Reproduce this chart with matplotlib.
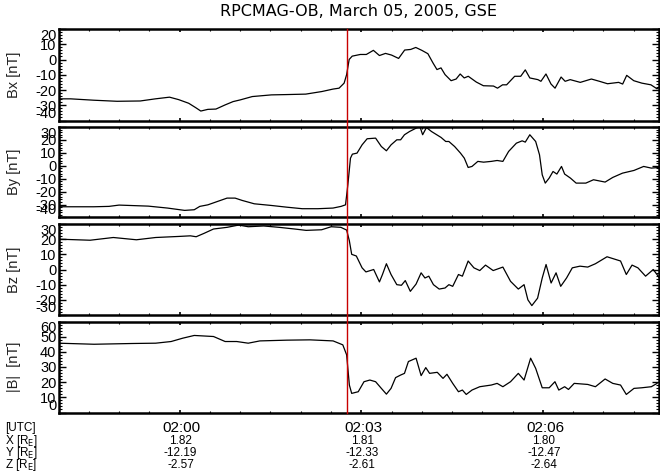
import matplotlib
matplotlib.use('Agg')
import matplotlib.pyplot as plt
from matplotlib.ticker import MultipleLocator
from matplotlib.transforms import blended_transform_factory
from matplotlib.lines import Line2D

# ---------------- data (time in seconds after 01:58:00 UTC) ----------------
bx_t = [0, 12, 35, 58, 81, 96, 110, 119, 129, 136, 141, 148, 156, 165, 173, 180, 192, 211, 226, 245,
        261, 272, 278, 283, 285.5, 288, 291, 299, 305, 312, 318, 324, 330, 337, 343, 349, 354, 360,
        366, 371, 375, 379, 383, 389, 394, 398, 402, 406, 414, 421, 431, 435, 440, 444, 452, 458,
        462.5, 467, 475, 478, 483, 488, 492, 498, 502, 507, 517, 528, 536, 544, 555, 559, 563, 570,
        578, 587, 593, 595]
bx = [-25.8, -25.8, -26.7, -27.4, -27.2, -25.8, -24.7, -26.3, -28.7, -31.6, -33.8, -32.7, -32.5, -29.8,
      -27.6, -26.5, -24.3, -23.2, -23.0, -22.7, -21.0, -19.4, -18.8, -15.5, -9.9, 0.0, 2.2, 3.3, 3.3,
      6.0, 2.6, 4.0, 2.9, 0.7, 6.2, 6.6, 7.9, 6.0, 3.8, -2.2, -6.6, -5.5, -9.9, -13.9, -12.8, -9.5,
      -12.1, -11.0, -14.8, -17.2, -17.4, -18.8, -16.6, -16.6, -11.0, -11.0, -6.8, -12.1, -13.2,
      -14.3, -9.5, -16.1, -18.8, -11.5, -14.3, -13.2, -15.0, -12.8, -14.3, -15.9, -15.0, -16.1,
      -10.4, -13.9, -15.5, -16.6, -19.2, -18.3]

by_t = [0, 35, 50, 60, 89, 108, 125, 134.5, 140, 148, 157.5, 167, 175, 182, 194, 211, 226, 241.5, 257,
        272, 280, 284.4, 286.7, 289.3, 291.2, 295.8, 300.8, 305.8, 314.2, 319.9, 324.9, 329.5, 335.2,
        339, 342.8, 347.8, 354.3, 358.1, 360.8, 364.6, 369.6, 379.1, 383.7, 386.8, 392.5, 398.3,
        402.1, 405.9, 409.7, 415.5, 421.2, 428.8, 434.6, 440.3, 446, 453.7, 459.4, 462.5, 467,
        472.8, 476.6, 479.3, 482.3, 486.2, 490, 493.8, 498.4, 501.5, 507.2, 512.9, 522.5, 530.1,
        541.6, 549.2, 558.8, 570.2, 579.8, 587.4, 595]
by = [-31.7, -31.7, -31.4, -30.4, -31.2, -32.7, -34.5, -34.0, -31.4, -30.2, -27.6, -25.0, -25.0, -26.8,
      -29.4, -30.7, -32.0, -33.2, -33.2, -32.7, -31.4, -30.2, -14.7, 5.9, 9.0, 9.8, 16.2, 20.9, 21.4,
      14.9, 11.6, 16.2, 20.1, 20.1, 24.0, 26.5, 29.1, 30.4, 24.0, 29.6, 26.5, 21.9, 18.8, 18.8, 14.9,
      9.8, 5.9, -1.3, -0.5, 3.4, 2.8, 3.4, 4.1, 3.4, 11.1, 17.5, 19.3, 18.3, 24.0, 18.8, 8.5, -7.0,
      -13.4, -9.5, -4.4, -6.4, -0.5, -6.4, -9.5, -13.4, -13.4, -10.8, -12.6, -9.0, -5.7, -3.6,
      -0.5, -1.8, -1.3]

bz_t = [0, 31.3, 54.3, 77.2, 96.3, 119.2, 130.7, 136.4, 144.1, 153.6, 167, 178.5, 188, 203.3, 218.6,
        233.9, 245.4, 260.7, 270.2, 279.8, 285.5, 288.2, 290.5, 295.1, 300.8, 304.6, 312.3, 318, 321,
        324.9, 329.5, 335.2, 339.8, 343.6, 348.6, 354.3, 359.3, 363.1, 366.9, 371.5, 377.2, 383,
        386.8, 390.6, 396.3, 400.2, 405.9, 411.6, 417.4, 423.1, 430.7, 440.3, 447.9, 455.6, 461.3,
        465.1, 469, 474.7, 479.3, 483.1, 488.1, 493, 497.6, 503.4, 509.1, 516.7, 524.4, 532, 543.5,
        556.9, 562.6, 568.3, 574.1, 581.7, 589.3, 595]
bz = [20.0, 19.3, 21.1, 19.6, 21.1, 21.8, 22.2, 21.6, 23.8, 26.7, 27.8, 29.3, 28.2, 28.7, 27.8, 26.7,
      25.8, 26.2, 28.2, 27.8, 26.0, 18.9, 10.0, 8.9, 1.1, -1.6, 0.0, -8.2, -3.3, 3.8, -3.3, -10.0,
      -10.4, -7.3, -14.4, -9.6, -2.2, -5.6, -4.4, -10.0, -12.9, -12.2, -10.0, -11.1, -3.3, -4.4,
      5.6, 1.1, -0.7, 2.9, -0.7, 1.6, -7.8, -12.9, -10.0, -20.0, -23.8, -18.9, -5.6, 3.3, -8.9,
      -2.2, -11.1, -5.6, 1.1, 2.2, 1.6, 3.8, 8.4, 5.6, -3.3, 2.9, 1.1, -4.4, 0.0, -5.1]

bt_t = [0, 35.2, 73.4, 96.3, 111.6, 123.1, 134.5, 153.6, 165.1, 176.6, 188, 199.5, 226.3, 249.2,
        272.1, 281.7, 285.5, 288.2, 290.5, 297, 302.7, 308.5, 314.2, 319.9, 324.9, 329.5, 334, 339,
        342.8, 346.7, 354.3, 359.3, 363.9, 367.7, 375.3, 381, 384.9, 390.6, 396.3, 400.2, 404,
        409.7, 417.4, 428.8, 434.6, 440.3, 447.9, 455.6, 461.3, 467.8, 472.8, 479.3, 486.2, 491.9,
        495.7, 501.5, 505.3, 511, 524.4, 532, 541.6, 549.2, 556.9, 562.6, 570.2, 577.9, 587.4, 593.1]
bt = [45.7, 45.0, 45.5, 45.7, 46.8, 49.0, 50.8, 50.1, 46.8, 46.8, 45.7, 47.2, 47.7, 47.9, 47.2, 44.6,
      38.0, 18.1, 12.6, 13.7, 20.3, 21.4, 20.3, 15.9, 12.1, 15.9, 23.0, 24.7, 25.8, 33.6, 35.8, 24.3,
      29.6, 25.8, 26.5, 22.5, 25.2, 19.2, 13.7, 14.8, 11.9, 14.8, 17.0, 18.1, 19.2, 17.0, 20.3, 25.8,
      21.4, 35.8, 29.1, 16.3, 16.3, 20.3, 14.8, 17.0, 15.2, 19.2, 18.5, 17.0, 22.1, 19.2, 18.1, 11.9,
      15.9, 16.3, 17.0, 19.2]

panel_labels = ['Bx [nT]', 'By [nT]', 'Bz [nT]', '|B|  [nT]']
panel_ylims = [(-40, 20), (-40, 30), (-30, 30), (0, 60)]
event_time = 286.3           # red marker, ~02:02:46
x_range = (0, 595)
tick_times = [120, 300, 480]
tick_labels = ['02:00', '02:03', '02:06']
pos_x = ['1.82', '1.81', '1.80']
pos_y = ['-12.19', '-12.33', '-12.47']
pos_z = ['-2.57', '-2.61', '-2.64']
title = 'RPCMAG-OB, March 05, 2005, GSE'

# ---------------- figure ----------------
W, H = 660, 476
fig = plt.figure(figsize=(W / 100, H / 100), dpi=100)
fig.patch.set_facecolor('white')
tick_font = 'Liberation Sans'

panels_px = [(29, 120.5), (127, 217.5), (224, 315), (321.5, 412.5)]
left_px, right_px = 58.5, 659
series = [(bx_t, bx), (by_t, by), (bz_t, bz), (bt_t, bt)]
axes = []
for i, ((top, bot), (t, v)) in enumerate(zip(panels_px, series)):
    ax = fig.add_axes([left_px / W, 1 - bot / H, (right_px - left_px) / W, (bot - top) / H])
    ax.plot(t, v, color='black', lw=0.9)
    ax.set_xlim(*x_range)
    ylo, yhi = panel_ylims[i]
    ax.set_ylim(ylo, yhi)
    ax.set_xticks(tick_times)
    ax.xaxis.set_minor_locator(MultipleLocator(30))
    ax.set_xticklabels([])
    yt = list(range(int(ylo), int(yhi) + 1, 10))
    ax.set_yticks(yt)
    ax.set_yticklabels([str(v_) for v_ in yt], fontsize=10.5, family=tick_font)
    ax.yaxis.set_minor_locator(MultipleLocator(2))
    for lab, val in zip(ax.get_yticklabels(), yt):
        if val == yhi:
            lab.set_va('top')
        elif val == ylo:
            lab.set_va('bottom')
    ax.tick_params(axis='y', which='major', direction='in', length=5, width=1,
                   left=True, right=True, pad=1.5)
    ax.tick_params(axis='y', which='minor', direction='in', length=2.5, width=0.8,
                   left=True, right=True)
    ax.tick_params(axis='x', which='major', direction='in', length=2.5, width=1.2,
                   top=True, bottom=True)
    ax.tick_params(axis='x', which='minor', direction='in', length=1.5, width=0.8,
                   top=True, bottom=True)
    for s in ax.spines.values():
        s.set_linewidth(1.8)
    fig.text(14 / W, 1 - (top + bot) / 2 / H, panel_labels[i], rotation=90,
             ha='center', va='center', fontsize=10.5, family=tick_font, color='#222222')
    axes.append(ax)

# red event marker across all panels
x_disp = axes[0].transData.transform((event_time, 0))[0]
x_fig = x_disp / W
fig.add_artist(Line2D([x_fig, x_fig], [1 - panels_px[-1][1] / H, 1 - panels_px[0][0] / H],
                      transform=fig.transFigure, color='#c80000', lw=1.0, zorder=10))

# title
fig.text((left_px + right_px) / 2 / W, 1 - 12 / H, title, ha='center', va='center',
         fontsize=11.5, family='DejaVu Sans')

# bottom annotation rows
ax4 = axes[-1]
trans = blended_transform_factory(ax4.transData, fig.transFigure)
rows_y = [428, 441, 453, 465]
for tt, lab, px_, py_, pz_ in zip(tick_times, tick_labels, pos_x, pos_y, pos_z):
    ax4.text(tt + 2, 1 - rows_y[0] / H, lab, transform=trans, ha='center', va='center',
             fontsize=11, family=tick_font)
    for val, ry in zip((px_, py_, pz_), rows_y[1:]):
        ax4.text(tt + 1, 1 - ry / H, val, transform=trans, ha='center', va='center',
                 fontsize=8.5, family=tick_font)

left_rows = ['[UTC]', 'X [R$_{\\rm E}$]', 'Y [R$_{\\rm E}$]', 'Z [R$_{\\rm E}$]']
for lab, ry in zip(left_rows, rows_y):
    fig.text(5 / W, 1 - ry / H, lab, ha='left', va='center', fontsize=8.5, family=tick_font)

fig.savefig('out.png', dpi=100)
